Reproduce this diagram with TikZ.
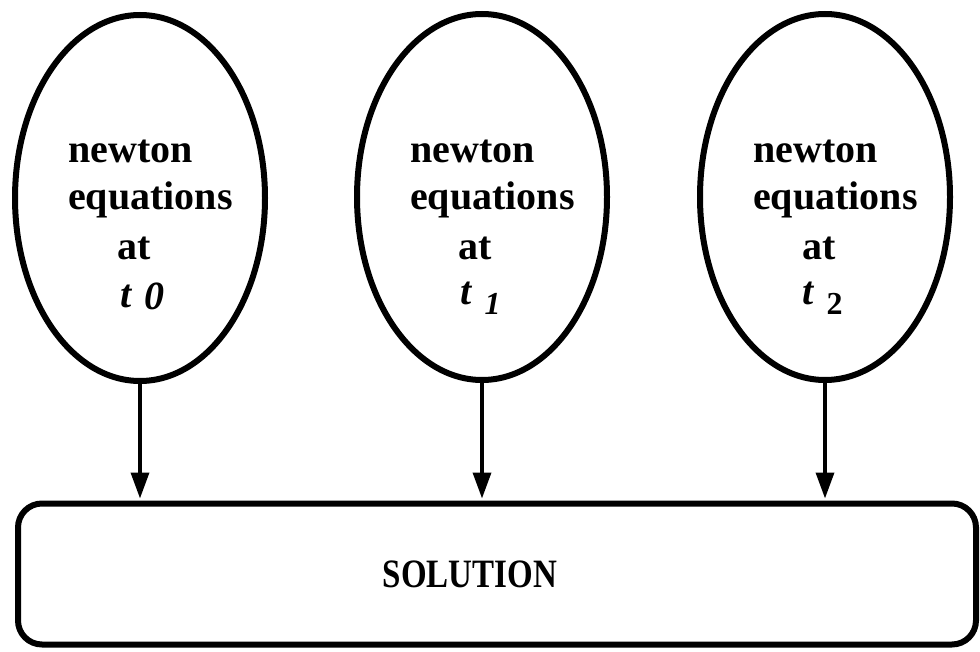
\documentclass[tikz,border=0pt]{standalone}
\usepackage{fontspec}
\setmainfont{Liberation Serif}
\usetikzlibrary{shapes.geometric,arrows.meta}
\tikzset{
  bubble/.style={draw, ellipse, line width=6pt, minimum width=250pt, minimum height=366pt, inner sep=0pt},
  label/.style={anchor=base west, inner sep=0pt, font=\fontsize{40}{48}\selectfont\bfseries},
  solbox/.style={draw, rounded corners=24pt, line width=6pt, minimum width=958pt, minimum height=141pt, inner sep=0pt},
  arr/.style={line width=3.5pt, -{Triangle[length=26pt,width=18pt]}, shorten >=2pt}
}
\begin{document}
\begin{tikzpicture}[x=1pt,y=-1pt]
\useasboundingbox (0,0) rectangle (980,652);
\node[bubble] (e1) at (140,198) {};
\node[bubble] (e2) at (482,197) {};
\node[bubble] (e3) at (825,197) {};
\node[solbox] (sol) at (497,574) {};
% texts ellipse 1
\node[label] (a1) at (68,163) {newton};
\node[label] (b1) at (68,210) {equations};
\node[label] (c1) at (117,260) {at};
\node[label] (d1) at (120,308) {\itshape t\,\,\raisebox{-2pt}{0}};
% texts ellipse 2
\node[label] (a2) at (410,163) {newton};
\node[label] (b2) at (410,210) {equations};
\node[label] (c2) at (458,260) {at};
\node[label] (d2) at (460,305) {\itshape t\,\,\raisebox{-10pt}{\fontsize{32}{32}\selectfont 1}};
% texts ellipse 3
\node[label] (a3) at (753,163) {newton};
\node[label] (b3) at (753,210) {equations};
\node[label] (c3) at (802,260) {at};
\node[label] (d3) at (802,305) {\itshape t\,\,\raisebox{-10pt}{\fontsize{32}{32}\selectfont\upshape 2}};
% solution
\node[anchor=base, inner sep=0pt, font=\fontsize{33}{36}\selectfont\bfseries] (st) at (470,587) {\scalebox{1}[1.22]{SOLUTION}};
% arrows
\draw[arr] (e1.south) -- (e1.south |- sol.north);
\draw[arr] (e2.south) -- (e2.south |- sol.north);
\draw[arr] (e3.south) -- (e3.south |- sol.north);
\end{tikzpicture}
\end{document}
